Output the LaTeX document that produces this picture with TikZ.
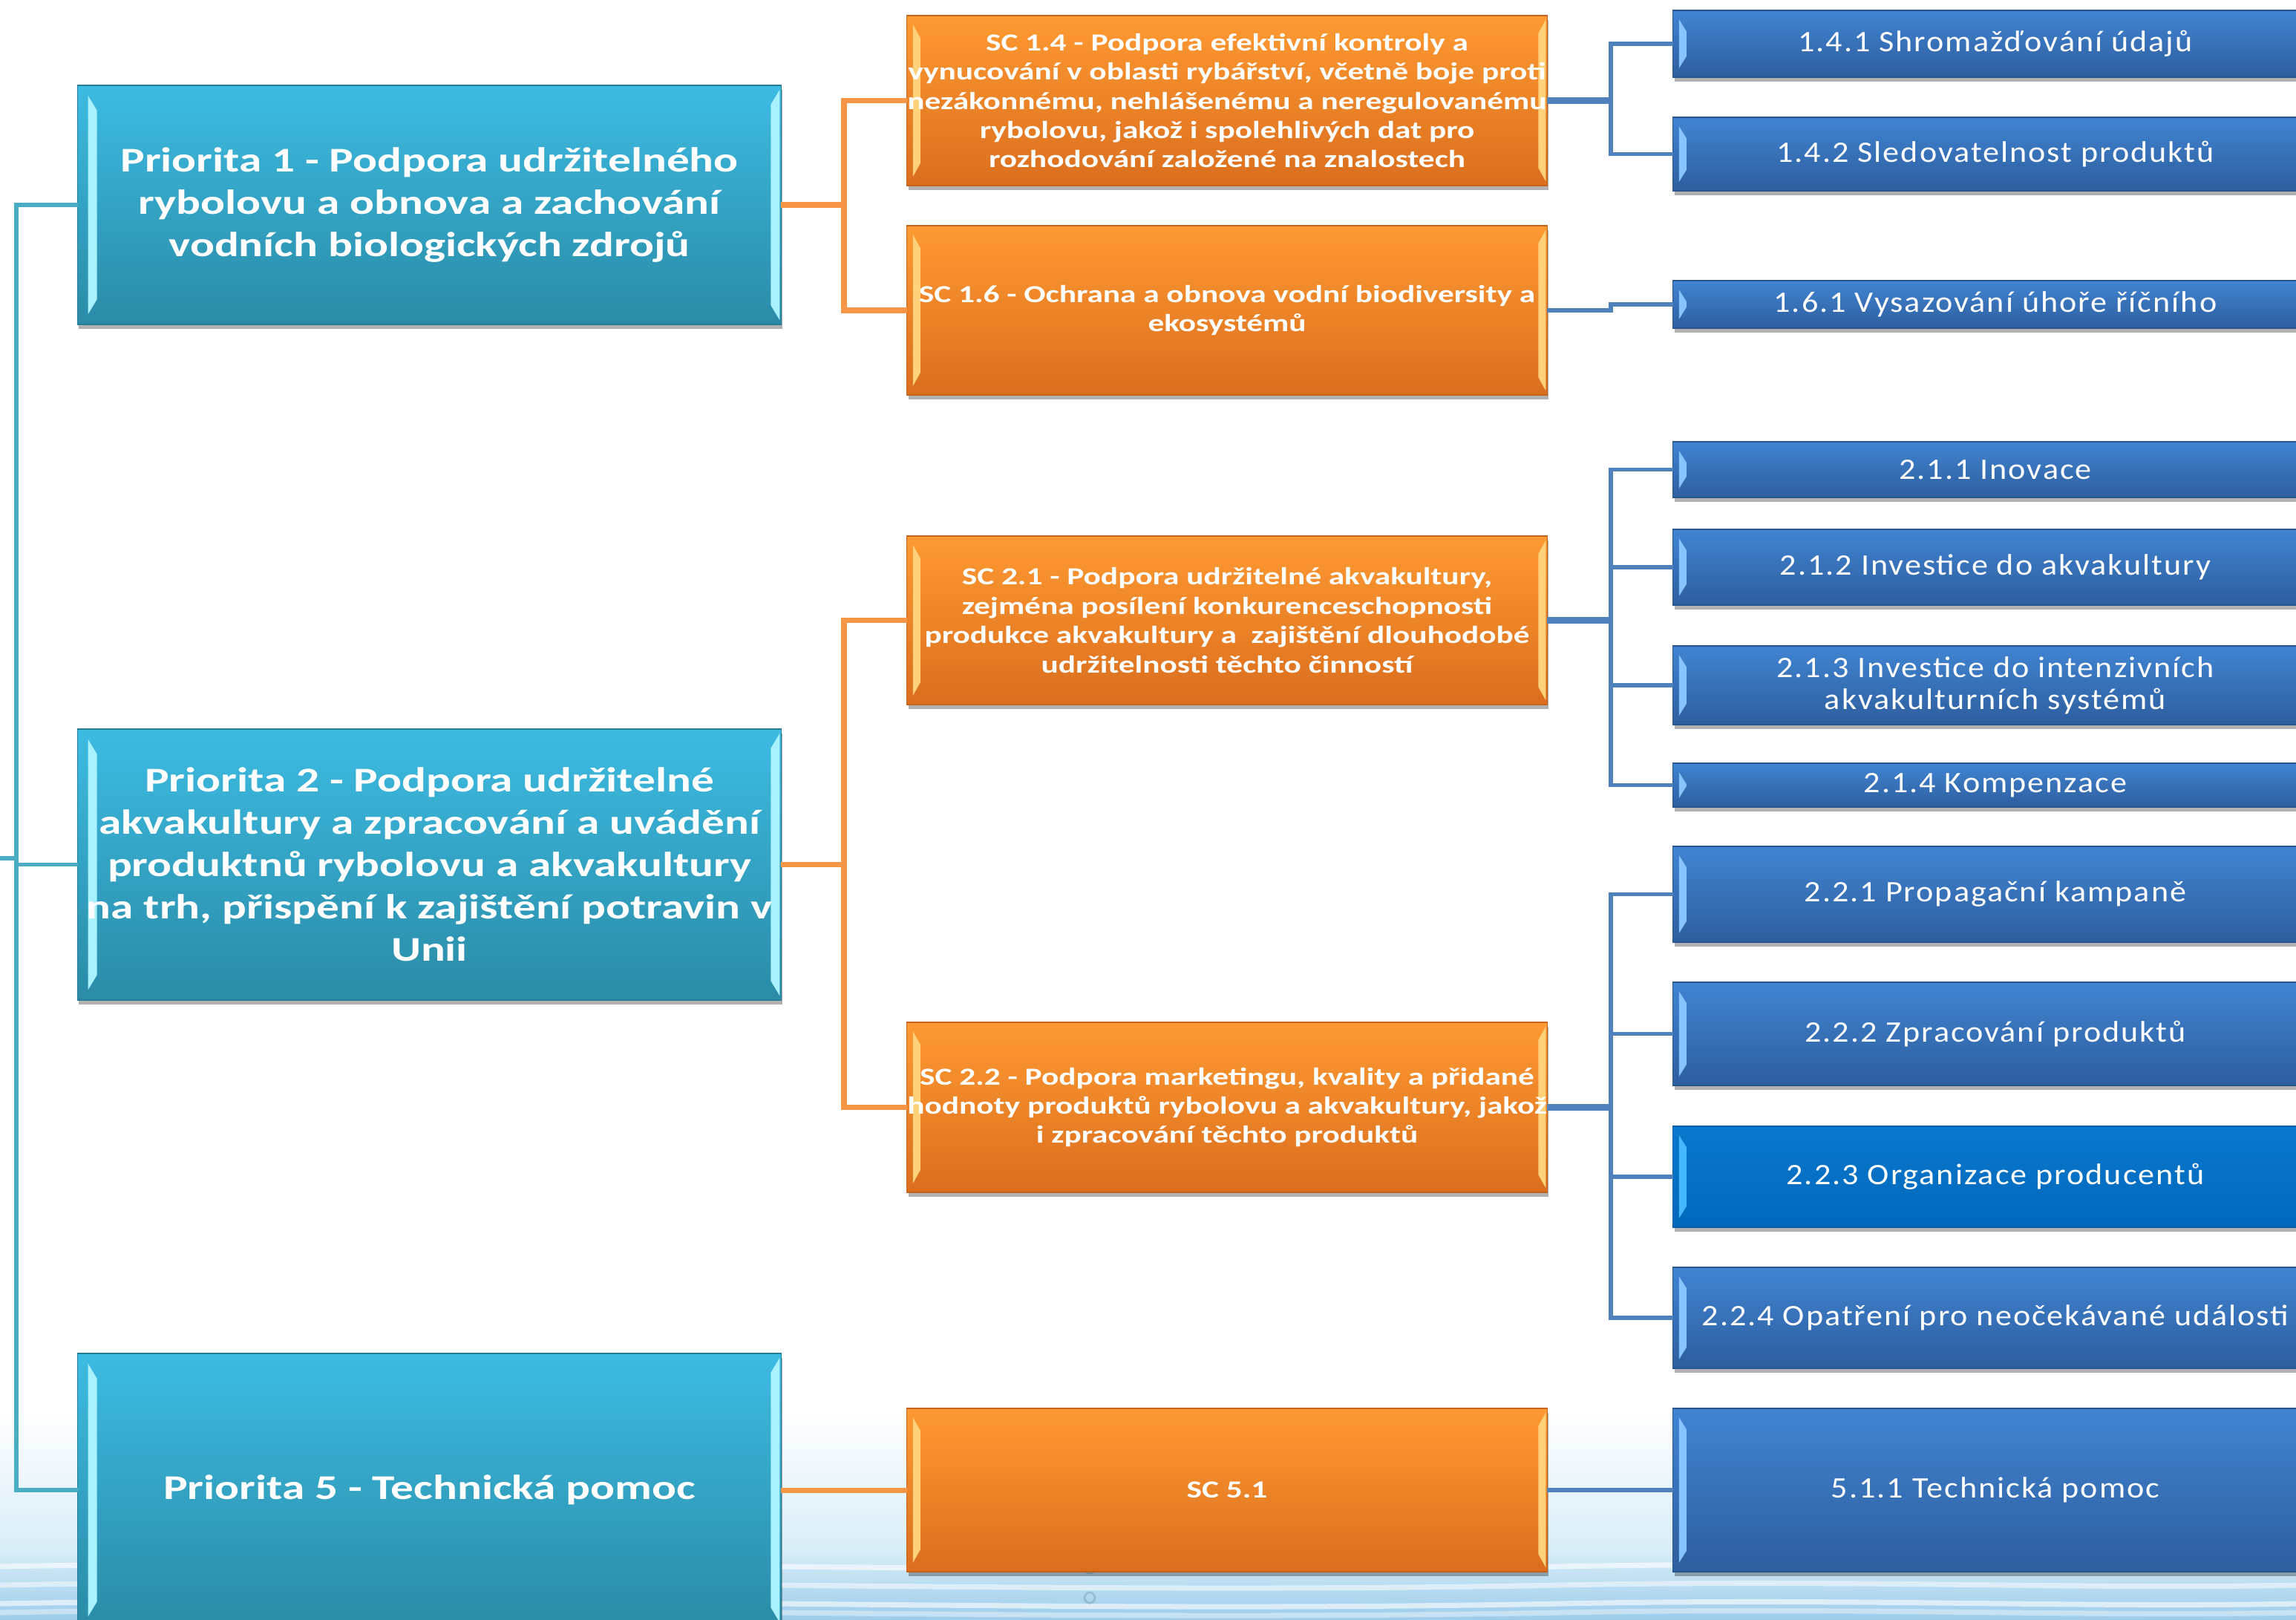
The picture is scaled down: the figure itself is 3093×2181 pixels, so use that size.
\documentclass[tikz,border=0pt]{standalone}
\usepackage{fontspec}
\setmainfont{Carlito}
\newfontfamily\boldwide[FakeStretch=1.31]{Carlito}
\newfontfamily\regwide[FakeStretch=1.1,LetterSpace=5]{Carlito}
\usetikzlibrary{shadows,calc}
\definecolor{ptop}{HTML}{3DBBE2}
\definecolor{pbot}{HTML}{2A8BA6}
\definecolor{pline}{HTML}{4BACC6}
\definecolor{phl}{HTML}{A8F2FF}
\definecolor{otop}{HTML}{FE9A32}
\definecolor{obot}{HTML}{DA6E1E}
\definecolor{oline}{HTML}{F79646}
\definecolor{ohl}{HTML}{FFD27A}
\definecolor{btop}{HTML}{4084D2}
\definecolor{bbot}{HTML}{2E5E9E}
\definecolor{bline}{HTML}{4F81BD}
\definecolor{bhl}{HTML}{86C3FF}
\definecolor{ctop}{HTML}{0A78CE}
\definecolor{cbot}{HTML}{0068BA}
\definecolor{chl}{HTML}{45B8FF}
\definecolor{water1}{HTML}{D8EDF8}
\definecolor{water2}{HTML}{9DCCEA}
\tikzset{
  x=0.01cm, y=-0.01cm,
  boxbase/.style={inner sep=0pt, outer sep=0pt,
    drop shadow={shadow xshift=0.5pt, shadow yshift=-1.8pt, opacity=0.3, fill=black}},
  pribox/.style={boxbase, draw=pbot!90!black, line width=0.4pt, top color=ptop, bottom color=pbot,
    path picture={
      \fill[phl] ($(path picture bounding box.north west)+(14,14)$) -- ($(path picture bounding box.north west)+(26,34)$)
        -- ($(path picture bounding box.south west)+(26,-34)$) -- ($(path picture bounding box.south west)+(14,-14)$) -- cycle;
      \fill[phl] ($(path picture bounding box.north east)+(-2,6)$) -- ($(path picture bounding box.north east)+(-14,26)$)
        -- ($(path picture bounding box.south east)+(-14,-26)$) -- ($(path picture bounding box.south east)+(-2,-6)$) -- cycle;}},
  scbox/.style={boxbase, draw=obot!90!black, line width=0.4pt, top color=otop, bottom color=obot,
    path picture={
      \fill[ohl] ($(path picture bounding box.north west)+(8,12)$) -- ($(path picture bounding box.north west)+(18,30)$)
        -- ($(path picture bounding box.south west)+(18,-30)$) -- ($(path picture bounding box.south west)+(8,-12)$) -- cycle;
      \fill[ohl] ($(path picture bounding box.north east)+(-2,6)$) -- ($(path picture bounding box.north east)+(-12,24)$)
        -- ($(path picture bounding box.south east)+(-12,-24)$) -- ($(path picture bounding box.south east)+(-2,-6)$) -- cycle;}},
  bbox/.style={boxbase, draw=bbot!90!black, line width=0.4pt, top color=btop, bottom color=bbot,
    minimum width=8.68cm,
    path picture={
      \fill[bhl] ($(path picture bounding box.north west)+(8,12)$) -- ($(path picture bounding box.north west)+(18,28)$)
        -- ($(path picture bounding box.south west)+(18,-28)$) -- ($(path picture bounding box.south west)+(8,-12)$) -- cycle;}},
  cbox/.style={boxbase, draw=cbot!90!black, line width=0.4pt, top color=ctop, bottom color=cbot,
    minimum width=8.68cm,
    path picture={
      \fill[chl] ($(path picture bounding box.north west)+(8,12)$) -- ($(path picture bounding box.north west)+(18,28)$)
        -- ($(path picture bounding box.south west)+(18,-28)$) -- ($(path picture bounding box.south west)+(8,-12)$) -- cycle;}},
  pritext/.style={text=white, align=center, inner sep=0pt, font=\boldwide\fontsize{13.3}{16.2}\selectfont\bfseries},
  sctext/.style={text=white, align=center, inner sep=0pt, font=\boldwide\fontsize{9.4}{11.2}\selectfont\bfseries},
  btext/.style={text=white, align=center, inner sep=0pt, font=\regwide\fontsize{11.4}{12.3}\selectfont},
  pconn/.style={draw=pline, line width=1.5pt},
  oconn/.style={draw=oline, line width=2pt},
  bconn/.style={draw=bline, line width=1.6pt},
  bstem/.style={draw=bline, line width=2.3pt},
}
\begin{document}
\begin{tikzpicture}
\useasboundingbox (0,0) rectangle (3093,2181);
\clip (0,0) rectangle (3093,2181);
% water background
\fill[white] (0,0) rectangle (3093,2181);
\fill[top color=white, bottom color=water1] (0,1900) rectangle (3093,2090);
\fill[top color=water1, bottom color=water2] (0,2089) rectangle (3093,2181);
\foreach \yy/\op in {2110/0.6, 2135/0.5, 2160/0.6, 2172/0.4}{
  \draw[white, line width=2pt, opacity=\op] (0,\yy) .. controls (700,\yy-14) and (1400,\yy+14) .. (2100,\yy) .. controls (2500,\yy-8) and (2800,\yy+6) .. (3093,\yy);
}
\draw[water2!80!black, line width=0.8pt, opacity=0.5] (1468,2112) circle[radius=7];
\draw[water2!80!black, line width=0.8pt, opacity=0.5] (1468,2152) circle[radius=7];

% priority boxes
\node[pribox, minimum width=9.47cm, minimum height=3.22cm] (P1) at (578.5,276) {};
\node[pribox, minimum width=9.47cm, minimum height=3.65cm] (P2) at (578.5,1164.5) {};
\node[pribox, minimum width=9.47cm, minimum height=3.68cm] (P5) at (578.5,2007) {};
\node[pritext] (P1t) at (P1.center) {Priorita 1 - Podpora udržitelného\\rybolovu a obnova a zachování\\vodních biologických zdrojů};
\node[pritext] (P2t) at (P2.center) {Priorita 2 - Podpora udržitelné\\akvakultury a zpracování a uvádění\\produktnů rybolovu a akvakultury\\na trh, přispění k zajištění potravin v\\Unii};
\node[pritext] (P5t) at (P5.center) {Priorita 5 - Technická pomoc};

% SC boxes
\node[scbox, minimum width=8.62cm, minimum height=2.29cm] (S14) at (1653,135.5) {};
\node[scbox, minimum width=8.62cm, minimum height=2.28cm] (S16) at (1653,418) {};
\node[scbox, minimum width=8.62cm, minimum height=2.27cm] (S21) at (1653,835.5) {};
\node[scbox, minimum width=8.62cm, minimum height=2.29cm] (S22) at (1653,1491.5) {};
\node[scbox, minimum width=8.62cm, minimum height=2.20cm] (S51) at (1653,2007) {};
\node[sctext] (S14t) at (S14.center) {SC 1.4 - Podpora efektivní kontroly a\\vynucování v oblasti rybářství, včetně boje proti\\nezákonnému, nehlášenému a neregulovanému\\rybolovu, jakož i spolehlivých dat pro\\rozhodování založené na znalostech};
\node[sctext] (S16t) at (S16.center) {SC 1.6 - Ochrana a obnova vodní biodiversity a\\ekosystémů};
\node[sctext] (S21t) at (S21.center) {SC 2.1 - Podpora udržitelné akvakultury,\\zejména posílení konkurenceschopnosti\\produkce akvakultury a \ zajištění dlouhodobé\\udržitelnosti těchto činností};
\node[sctext] (S22t) at (S22.center) {SC 2.2 - Podpora marketingu, kvality a přidané\\hodnoty produktů rybolovu a akvakultury, jakož\\i zpracování těchto produktů};
\node[sctext] (S51t) at (S51.center) {SC 5.1};

% blue boxes
\node[bbox, minimum height=0.90cm] (B141) at (2688,59) {};
\node[bbox, minimum height=0.99cm] (B142) at (2688,207.5) {};
\node[bbox, minimum height=0.64cm] (B161) at (2688,410) {};
\node[bbox, minimum height=0.75cm] (B211) at (2688,632.5) {};
\node[bbox, minimum height=1.02cm] (B212) at (2688,764) {};
\node[bbox, minimum height=1.06cm] (B213) at (2688,923) {};
\node[bbox, minimum height=0.59cm] (B214) at (2688,1057.5) {};
\node[bbox, minimum height=1.29cm] (B221) at (2688,1204.5) {};
\node[bbox, minimum height=1.39cm] (B222) at (2688,1392.5) {};
\node[cbox, minimum height=1.36cm] (B223) at (2688,1585) {};
\node[bbox, minimum height=1.36cm] (B224) at (2688,1775) {};
\node[bbox, minimum height=2.20cm] (B511) at (2688,2007) {};
\node[btext] at (B141.center) {1.4.1 Shromažďování údajů};
\node[btext] at (B142.center) {1.4.2 Sledovatelnost produktů};
\node[btext] at (B161.center) {1.6.1 Vysazování úhoře říčního};
\node[btext] at (B211.center) {2.1.1 Inovace};
\node[btext] at (B212.center) {2.1.2 Investice do akvakultury};
\node[btext] at (B213.center) {2.1.3 Investice do intenzivních\\akvakulturních systémů};
\node[btext] at (B214.center) {2.1.4 Kompenzace};
\node[btext] at (B221.center) {2.2.1 Propagační kampaně};
\node[btext] at (B222.center) {2.2.2 Zpracování produktů};
\node[btext] at (B223.center) {2.2.3 Organizace producentů};
\node[btext] at (B224.center) {2.2.4 Opatření pro neočekávané události};
\node[btext] at (B511.center) {5.1.1 Technická pomoc};

% left spine
\coordinate (sp) at (22,1164.5);
\coordinate (stub) at (0,1156);
\draw[pconn] (P1.west) -| (sp) |- (P5.west);
\draw[pconn] (sp) -- (P2.west);
\draw[pconn] (stub) -- (22,1156);

% orange connectors
\coordinate (o1) at (1137,276);
\coordinate (o2) at (1137,1164.5);
\draw[oconn] (P1.east) -- (o1);
\draw[oconn] (S14.west) -| (o1) |- (S16.west);
\draw[oconn] (P2.east) -- (o2);
\draw[oconn] (S21.west) -| (o2) |- (S22.west);
\draw[oconn] (P5.east) -- (S51.west);

% blue connectors
\coordinate (h14) at (2170,135.5);
\coordinate (h16) at (2170,410);
\coordinate (h21) at (2170,835.5);
\coordinate (h22) at (2170,1491.5);
\draw[bstem] (S14.east) -- (h14);
\draw[bconn] (B141.west) -| (h14) |- (B142.west);
\draw[bconn] (S16.east) -| (h16) -- (B161.west);
\draw[bstem] (S21.east) -- (h21);
\draw[bconn] (B211.west) -| (h21) |- (B214.west);
\draw[bconn] (h21 |- B212.west) -- (B212.west);
\draw[bconn] (h21 |- B213.west) -- (B213.west);
\draw[bstem] (S22.east) -- (h22);
\draw[bconn] (B221.west) -| (h22) |- (B224.west);
\draw[bconn] (h22 |- B222.west) -- (B222.west);
\draw[bconn] (h22 |- B223.west) -- (B223.west);
\draw[bconn] (S51.east) -- (B511.west);
\end{tikzpicture}
\end{document}
